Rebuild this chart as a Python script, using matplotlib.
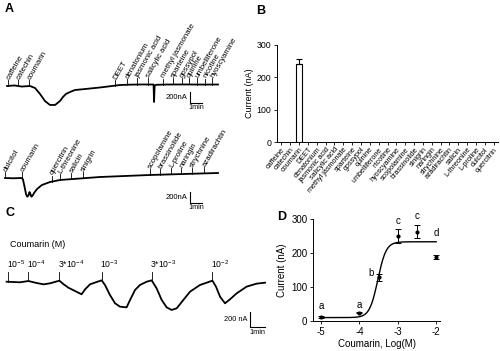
import numpy as np
import matplotlib.pyplot as plt

plt.rcParams['font.family'] = ['Liberation Sans', 'DejaVu Sans']
plt.rcParams['mathtext.default'] = 'regular'
plt.rcParams['axes.unicode_minus'] = False

W, H = 500, 351

# ---- panel A, upper recording (time in min, current in nA)
a1_t = [0.17, 0.8, 1.4, 2.08, 2.5, 2.92, 3.33, 3.75, 4.17, 4.58, 4.83, 5.08, 5.42,
        5.83, 6.67, 7.92, 8.92, 9.58, 10.5, 11.5, 12.0, 12.38, 12.42, 12.47, 12.6,
        13.5, 15.0, 16.5, 17.75]
a1_i = [0, 10, -10, 0, -36, -145, -273, -345, -345, -273, -200, -145, -109,
        -73, -55, -27, 0, 18, 25, 28, 27, 27, -290, 5, 22,
        27, 28, 26, 27]
a1_names = ["caffeine", "catechin", "coumarin", "DEET", "denatonium", "jasmonic acid",
            "salicylic acid", "methyl jasmonate", "sparteine", "gossypol", "quinine",
            "umbelliferone", "nicotine", "hyoscyamine"]
a1_times = [0.25, 1.08, 2.0, 9.17, 10.17, 11.0, 11.92, 13.17, 14.0, 14.75, 15.33,
            16.0, 16.67, 17.25]

# ---- panel A, lower recording
a2_t = [0.0, 0.7, 1.42, 1.5, 1.62, 1.75, 1.85, 1.95, 2.04, 2.12, 2.2, 2.3, 2.42, 2.67,
        3.08, 3.75, 4.58, 6.25, 7.9, 12.1, 17.75]
a2_i = [0, -5, 0, -30, -150, -290, -340, -320, -255, -290, -340, -320, -273, -200,
        -127, -73, -36, -9, 18, 55, 91]
a2_names = ["dulcitol", "coumarin", "quercitrin", "L-threonine", "salicin", "sinigrin",
            "scopolamine", "brassinolide", "L-proline", "naringin", "strychnine",
            "azadirachtin"]
a2_times = [0.0, 1.42, 3.92, 4.58, 5.5, 6.5, 12.08, 12.92, 13.83, 14.67, 15.58, 16.58]

# ---- panel B
b_names = ["caffeine", "catechin", "coumarin", "DEET", "denatonium", "jasmonic acid",
           "salicylic acid", "methyl jasmonate", "sparteine", "gossypol", "quinine",
           "umbelliferone", "nicotine", "hyoscyamine", "scopolamine", "brassinolide",
           "sinigrin", "naringin", "strychnine", "azadirachtin", "salicin",
           "L-threonine", "L-proline", "dulcitol", "quercitrin"]
b_vals = [0, 0, 240, 0, 0, 0, 0, 0, 0, 0, 0, 0, 0, 0, 0, 0, 0, 0, 0, 0, 0, 0, 0, 0, 0]
b_err = [0, 0, 18, 0, 0, 0, 0, 0, 0, 0, 0, 0, 0, 0, 0, 0, 0, 0, 0, 0, 0, 0, 0, 0, 0]

# ---- panel C, dose series recording
c_t = [0.04, 0.93, 1.49, 2.04, 2.49, 2.93, 3.56, 3.82, 4.16, 4.6, 5.04, 5.27, 5.6, 6.04,
       6.38, 6.6, 6.93, 7.27, 7.6, 8.04, 8.27, 8.6, 8.93, 9.38, 9.71, 10.04, 10.38,
       10.71, 11.04, 11.38, 11.82, 12.27, 12.93, 13.38, 13.76, 14.0, 14.27, 14.6,
       14.93, 15.38, 16.04, 16.71, 17.27]
c_i = [4, -4, 13, -13, -31, -18, 18, -27, -76, -120, -164, -98, -31, 0,
       22, -40, -173, -284, -329, -338, -240, -107, -40, 4, 22, -84, -240,
       -338, -373, -351, -240, -129, -40, -9, 18, -62, -196, -284,
       -231, -151, -62, -22, -9]
c_labels = [r"10$^{-5}$", r"10$^{-4}$", r"3*10$^{-4}$", r"10$^{-3}$", r"3*10$^{-3}$", r"10$^{-2}$"]
c_times = [0.16, 1.49, 3.56, 6.38, 9.71, 13.76]

# ---- panel D, dose-response
d_logc = [-5, -4, -3.5, -3, -2.5, -2]
d_mean = [12, 25, 128, 249, 263, 188]
d_sem = [2, 2, 10, 21, 19, 7]
d_letters = ["a", "a", "b", "c", "c", "d"]
d_letter_x = [-5, -4, -3.7, -3, -2.5, -2]
d_letter_y = [43, 48, 142, 293, 308, 260]
fit_bottom, fit_top, fit_logec50, fit_hill = 10, 233, -3.52, 4.0

fig = plt.figure(figsize=(W / 100, H / 100), dpi=100)


def px_axes(x0, y0, x1, y1):
    return fig.add_axes([x0 / W, 1 - y1 / H, (x1 - x0) / W, (y1 - y0) / H])


def trace_axes(x0, y0, x1, y1, t0_px, base_px, px_min, px_nA):
    ax = px_axes(x0, y0, x1, y1)
    ax.set_xlim((x0 - t0_px) / px_min, (x1 - t0_px) / px_min)
    ax.set_ylim((base_px - y1) / px_nA, (base_px - y0) / px_nA)
    ax.axis('off')
    return ax


def stim_marks(ax, t, i, times, names, tick_len, fs, rot=60, gap=15):
    for tm, nm in zip(times, names):
        y0 = np.interp(tm, t, i)
        ax.plot([tm, tm], [y0, y0 + tick_len], color='k', lw=0.6)
        ax.text(tm, y0 + tick_len + gap, nm, rotation=rot, ha='left', va='center',
                rotation_mode='anchor', fontsize=fs, clip_on=False)


def scale_bar(ax, t, top, dt, dI, lab_i, lab_t, fs_i=5.5, fs_t=5.2):
    ax.plot([t, t, t + dt], [top, top - dI, top - dI], color='k', lw=0.8)
    ax.text(t - 0.2, top - dI / 2, lab_i, ha='right', va='center', fontsize=fs_i)
    ax.text(t + dt / 2, top - dI - 25, lab_t, ha='center', va='top', fontsize=fs_t)


# panel A
axa1 = trace_axes(0, 0, 250, 115, 5, 86, 12, 11 / 200)
axa1.plot(a1_t, a1_i, color='k', lw=1.3)
stim_marks(axa1, a1_t, a1_i, a1_times, a1_names, 110, 5.6)
scale_bar(axa1, 15.4, -110, 1, 200, "200nA", "1min")

axa2 = trace_axes(0, 110, 250, 205, 5, 178, 12, 11 / 200)
axa2.plot(a2_t, a2_i, color='k', lw=1.3)
stim_marks(axa2, a2_t, a2_i, a2_times, a2_names, 110, 5.6)
scale_bar(axa2, 15.4, -255, 1, 200, "200nA", "1min")

# panel C
axc = trace_axes(0, 225, 280, 345, 6, 282, 15, 15 / 200)
axc.plot(c_t, c_i, color='k', lw=1.3)
for tm, lab in zip(c_times, c_labels):
    y0 = np.interp(tm, c_t, c_i)
    axc.plot([tm, tm], [y0, 138], color='k', lw=0.6)
    axc.text(tm - 0.1, 160, lab, ha='left', va='bottom', fontsize=6.2)
axc.text(0.3, 500, "Coumarin (M)", ha='left', va='center', fontsize=6.5)
scale_bar(axc, 16.27, -395, 1, 200, "200 nA", "1min", fs_i=5.3, fs_t=5.3)

# panel B
axb = px_axes(277, 45, 498, 142)
xb = np.arange(len(b_names))
edge = ['k' if v > 0 else '#cccccc' for v in b_vals]
axb.bar(xb, b_vals, width=0.7, color='white', edgecolor=edge, linewidth=0.8)
axb.errorbar(xb[2], b_vals[2], yerr=[[0], [b_err[2]]], fmt='none', ecolor='k',
             elinewidth=0.8, capsize=2, capthick=0.8)
axb.set_xlim(-0.5, len(b_names) - 0.5)
axb.set_ylim(0, 300)
axb.set_yticks([0, 100, 200, 300])
axb.set_xticks(xb)
axb.set_xticklabels(b_names, rotation=50, ha='right', rotation_mode='anchor', fontsize=5.2)
axb.tick_params(axis='y', labelsize=6.3, length=2.5, width=0.6, pad=1.5)
axb.tick_params(axis='x', length=2, width=0.6, pad=1)
axb.set_ylabel("Current (nA)", fontsize=6.5, labelpad=2)
for s in ['top', 'right']:
    axb.spines[s].set_visible(False)
for s in ['left', 'bottom']:
    axb.spines[s].set_linewidth(0.7)

# panel D
axd = px_axes(313, 219, 440, 321)
xs = np.linspace(-5, -2, 300)
fit = fit_bottom + (fit_top - fit_bottom) / (1 + 10 ** ((fit_logec50 - xs) * fit_hill))
axd.plot(xs, fit, color='k', lw=1.0)
axd.errorbar(d_logc, d_mean, yerr=d_sem, fmt='o', ms=2, color='k', ecolor='k',
             elinewidth=0.7, capsize=2, capthick=0.7, clip_on=False)
for x, y, s in zip(d_letter_x, d_letter_y, d_letters):
    axd.text(x, y, s, ha='center', va='center', fontsize=7)
axd.set_xlim(-5.21, -1.9)
axd.set_ylim(0, 300)
axd.set_xticks([-5, -4, -3, -2])
axd.set_yticks([0, 100, 200, 300])
axd.tick_params(labelsize=7, length=2.5, width=0.6, pad=1.5)
axd.set_xlabel("Coumarin, Log(M)", fontsize=7, labelpad=2)
axd.set_ylabel("Current (nA)", fontsize=7, labelpad=3)
for s in ['top', 'right']:
    axd.spines[s].set_visible(False)
for s in ['left', 'bottom']:
    axd.spines[s].set_linewidth(0.7)

# panel letters
for lab, x, y in [("A", 5, 9), ("B", 256, 11), ("C", 5, 213), ("D", 277, 217)]:
    fig.text(x / W, 1 - y / H, lab, fontsize=9, fontweight='bold', ha='left', va='center')

fig.savefig("out.png", dpi=100)
